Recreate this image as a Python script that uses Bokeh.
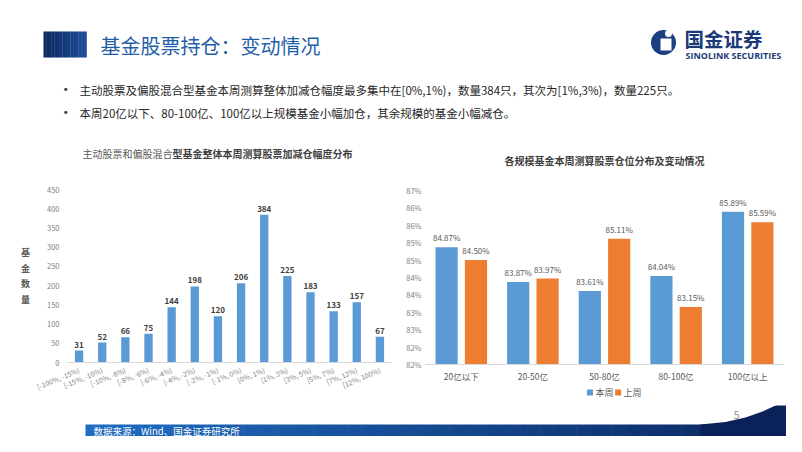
import numpy as np
from bokeh.plotting import figure
from bokeh.models import Range1d, FactorRange, FixedTicker, ColumnDataSource
from bokeh.layouts import column, row
from bokeh.transform import dodge
from bokeh.core.properties import value
from bokeh.embed import file_html
from bokeh.resources import INLINE

FONT = "Noto Sans CJK SC"

# ---------------- data ----------------
dist_bins = ["[-100%, -15%)", "[-15%, -10%)", "[-10%, -8%)", "[-8%, -6%)", "[-6%, -4%)",
             "[-4%, -2%)", "[-2%, -1%)", "[-1%, 0%)", "[0%, 1%)", "[1%, 3%)",
             "[3%, 5%)", "[5%, 7%)", "[7%, 12%)", "[12%, 100%)"]
dist_counts = [31, 52, 66, 75, 144, 198, 120, 206, 384, 225, 183, 133, 157, 67]
dist_yticks = [0, 50, 100, 150, 200, 250, 300, 350, 400, 450]

size_groups = ["20亿以下", "20-50亿", "50-80亿", "80-100亿", "100亿以上"]
this_week = [84.87, 83.87, 83.61, 84.04, 85.89]
last_week = [84.50, 83.97, 85.11, 83.15, 85.59]
series_names = ["本周", "上周"]
pos_yticks = [81.5, 82.0, 82.5, 83.0, 83.5, 84.0, 84.5, 85.0, 85.5, 86.0, 86.5]
pos_ytick_labels = ["82%", "82%", "83%", "83%", "84%", "84%", "85%", "85%", "86%", "86%", "87%"]

slide_title = "基金股票持仓：变动情况"
bullets = ["主动股票及偏股混合型基金本周测算整体加减仓幅度最多集中在[0%,1%)，数量384只，其次为[1%,3%)，数量225只。",
           "本周20亿以下、80-100亿、100亿以上规模基金小幅加仓，其余规模的基金小幅减仓。"]
left_title_a = "主动股票和偏股混合"
left_title_b = "型基金整体本周测算股票加减仓幅度分布"
right_title = "各规模基金本周测算股票仓位分布及变动情况"
source_note = "数据来源：Wind、国金证券研究所"

BLUE = "#5B9BD5"
ORANGE = "#ED7D31"


def lerp_colors(c1, c2, n):
    a = np.array([int(c1[i:i + 2], 16) for i in (1, 3, 5)], float)
    b = np.array([int(c2[i:i + 2], 16) for i in (1, 3, 5)], float)
    out = []
    for t in np.linspace(0, 1, n):
        c = a + (b - a) * t
        out.append("#%02x%02x%02x" % tuple(int(round(v)) for v in c))
    return out


def blank(width, height, xr, yr):
    p = figure(width=width, height=height, x_range=xr, y_range=yr,
               output_backend="svg", toolbar_location=None,
               x_axis_location=None, y_axis_location=None,
               min_border_left=0, min_border_right=0, min_border_top=0, min_border_bottom=0)
    p.grid.visible = False
    p.outline_line_color = None
    p.background_fill_color = "white"
    p.border_fill_color = "white"
    return p


# ---------------- header ----------------
hdr = blank(786, 175, Range1d(0, 786), Range1d(175, 0))
n = 16
xs = np.linspace(43, 86, n + 1)
cols = lerp_colors("#0c2860", "#1d4d9a", n)
hdr.quad(left=xs[:-1], right=xs[1:] + 0.3, top=31, bottom=57, color=cols, line_color=None)
hdr.text(x=[100], y=[45], text=[slide_title], text_font=value(FONT), text_font_size="20px",
         text_color="#1f5ea8", text_baseline="middle", text_align="left")
# logo
hdr.circle(x=[663], y=[42], radius=12.5, color="#1b3f80", line_color=None)
hdr.quad(left=[660], right=[671], top=[38], bottom=[50], color="white", line_color=None)
hdr.circle(x=[668], y=[33], radius=3.5, color="white", line_color=None)
hdr.text(x=[684], y=[38], text=["国金证券"], text_font=value(FONT), text_font_size="19.5px",
         text_font_style="bold", text_color="#1b3a78", text_baseline="middle")
hdr.text(x=[685], y=[55], text=["SINOLINK SECURITIES"], text_font=value("Open Sans"),
         text_font_size="9px", text_font_style="bold", text_color="#1b3a78", text_baseline="middle")
# bullets
for yy, t in zip([89, 112], bullets):
    hdr.text(x=[62], y=[yy], text=["•"], text_font=value("DejaVu Sans"), text_font_size="11px",
             text_color="#404040", text_baseline="middle")
    hdr.text(x=[79], y=[yy], text=[t], text_font=value(FONT), text_font_size="11.5px",
             text_color="#262626", text_baseline="middle")
# chart titles
hdr.text(x=[172], y=[153], text=[left_title_a], text_font=value(FONT), text_font_size="10px",
         text_color="#595959", text_baseline="middle", text_align="right")
hdr.text(x=[172], y=[153], text=[left_title_b], text_font=value(FONT), text_font_size="10px",
         text_font_style="bold", text_color="#404040", text_baseline="middle", text_align="left")
hdr.text(x=[604], y=[160], text=[right_title], text_font=value(FONT), text_font_size="10px",
         text_font_style="bold", text_color="#404040", text_baseline="middle", text_align="center")

# ---------------- left chart ----------------
pl = figure(width=392, height=230, x_range=FactorRange(*dist_bins), y_range=Range1d(0, 450),
            output_backend="svg", toolbar_location=None,
            min_border_left=67, min_border_right=1, min_border_top=14, min_border_bottom=43)
pl.outline_line_color = None
pl.grid.visible = False
pl.vbar(x=dist_bins, top=dist_counts, width=0.36, color=BLUE, line_color=None)
pl.text(x=dist_bins, y=dist_counts, text=[str(c) for c in dist_counts], y_offset=-3,
        text_font=value(FONT), text_font_size="8px", text_font_style="bold",
        text_color="#404040", text_align="center", text_baseline="bottom")
pl.yaxis.ticker = FixedTicker(ticks=dist_yticks)
pl.yaxis.axis_line_color = None
pl.yaxis.major_tick_line_color = None
pl.yaxis.minor_tick_line_color = None
pl.yaxis.major_tick_out = 0
pl.yaxis.major_tick_in = 0
pl.yaxis.major_label_standoff = 8
pl.yaxis.major_label_text_font = FONT
pl.yaxis.major_label_text_font_size = "7.5px"
pl.yaxis.major_label_text_color = "#808080"
pl.yaxis.axis_label = "基\n金\n数\n量"
pl.yaxis.axis_label_orientation = "horizontal"
pl.yaxis.axis_label_standoff = 14
pl.yaxis.axis_label_text_font = FONT
pl.yaxis.axis_label_text_font_size = "9px"
pl.yaxis.axis_label_text_font_style = "bold"
pl.yaxis.axis_label_text_color = "#595959"
pl.xaxis.axis_line_color = "#d9d9d9"
pl.xaxis.major_tick_line_color = None
pl.xaxis.major_tick_out = 0
pl.xaxis.major_tick_in = 0
pl.xaxis.major_label_orientation = 0.4
pl.xaxis.major_label_standoff = 7
pl.xaxis.major_label_text_font = FONT
pl.xaxis.major_label_text_font_size = "7px"
pl.xaxis.major_label_text_color = "#7f7f7f"

# ---------------- right chart ----------------
src = ColumnDataSource(dict(cat=size_groups, this=this_week, last=last_week,
                            this_lbl=["%.2f%%" % v for v in this_week],
                            last_lbl=["%.2f%%" % v for v in last_week]))
pr = figure(width=394, height=210, x_range=FactorRange(*size_groups), y_range=Range1d(81.5, 86.5),
            output_backend="svg", toolbar_location=None,
            min_border_left=33, min_border_right=3, min_border_top=15, min_border_bottom=21)
pr.outline_line_color = None
pr.grid.visible = False
OFF = 0.205
pr.vbar(x=dodge("cat", -OFF, range=pr.x_range), top="this", width=0.31, source=src,
        color=BLUE, line_color=None)
pr.vbar(x=dodge("cat", OFF, range=pr.x_range), top="last", width=0.31, source=src,
        color=ORANGE, line_color=None)
pr.text(x=dodge("cat", -OFF, range=pr.x_range), y="this", text="this_lbl", source=src, y_offset=-4,
        text_font=value(FONT), text_font_size="8px", text_color="#595959",
        text_align="center", text_baseline="bottom")
pr.text(x=dodge("cat", OFF, range=pr.x_range), y="last", text="last_lbl", source=src, y_offset=-4,
        text_font=value(FONT), text_font_size="8px", text_color="#595959",
        text_align="center", text_baseline="bottom")
pr.yaxis.ticker = FixedTicker(ticks=pos_yticks)
pr.yaxis.major_label_overrides = {t: l for t, l in zip(pos_yticks, pos_ytick_labels)}
pr.yaxis.axis_line_color = None
pr.yaxis.major_tick_line_color = None
pr.yaxis.minor_tick_line_color = None
pr.yaxis.major_tick_out = 0
pr.yaxis.major_tick_in = 0
pr.yaxis.major_label_standoff = 4
pr.yaxis.major_label_text_font = FONT
pr.yaxis.major_label_text_font_size = "7.5px"
pr.yaxis.major_label_text_color = "#808080"
pr.xaxis.axis_line_color = "#d9d9d9"
pr.xaxis.major_tick_line_color = None
pr.xaxis.major_tick_out = 0
pr.xaxis.major_tick_in = 0
pr.xaxis.major_label_standoff = 5
pr.xaxis.major_label_text_font = FONT
pr.xaxis.major_label_text_font_size = "8.5px"
pr.xaxis.major_label_text_color = "#595959"

# legend strip below the right chart (swatch + label per series)
lg = blank(394, 20, Range1d(392, 786), Range1d(405, 385))
lg.scatter(x=[573, 604], y=[392, 392], marker="square", size=6, color=[BLUE, ORANGE], line_color=None)
lg.text(x=[579, 610], y=[392, 392], text=series_names, text_font=value(FONT), text_font_size="9px",
        text_color="#595959", text_baseline="middle", text_align="left")

# ---------------- footer ----------------
ftr = blank(786, 31, Range1d(0, 786), Range1d(436, 405))
m = 40
bx = np.linspace(85, 786, m + 1)
bcols = lerp_colors("#1f6cc0", "#0a2660", m)
ftr.quad(left=bx[:-1], right=bx[1:] + 0.5, top=424, bottom=436, color=bcols, line_color=None)
ftr.patch(x=[700, 725, 745, 762, 775, 786, 786, 700],
          y=[424, 421.5, 417, 411, 405, 399, 436, 436], color="#0a2259", line_color=None)
ftr.text(x=[93], y=[430], text=[source_note], text_font=value(FONT), text_font_size="9.5px",
         text_color="white", text_baseline="middle")
ftr.text(x=[736], y=[414], text=["5"], text_font=value(FONT), text_font_size="10px",
         text_color="#8c8c8c", text_baseline="middle", text_align="center")

layout = column(hdr, row(pl, column(pr, lg, spacing=0), spacing=0), ftr, spacing=0)
open("out.html", "w").write(file_html(layout, INLINE))
